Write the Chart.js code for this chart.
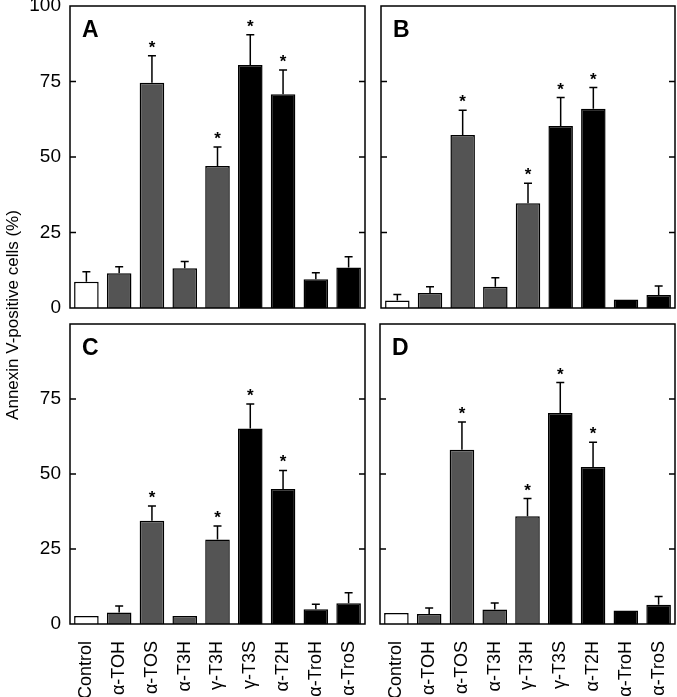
<!DOCTYPE html>
<html>
<head>
<meta charset="utf-8">
<script src="https://cdn.jsdelivr.net/npm/chart.js@4/dist/chart.umd.min.js"></script>
<style>
  body { margin: 0; background: #fff; }
  #wrap { position: relative; width: 677px; height: 697px; overflow: hidden; }
  canvas { position: absolute; }
  #ytitle {
    position: absolute; left: -137px; top: 305px; width: 300px; height: 20px;
    line-height: 20px; text-align: center; font: 17px "Liberation Sans", Arial, sans-serif;
    transform: rotate(-90deg); color: #000;
  }
</style>
</head>
<body>
<div id="wrap">
  <canvas id="chartC" width="370" height="379" style="left:0;top:318px;width:370px;height:379px"></canvas>
  <canvas id="chartD" width="303" height="379" style="left:374px;top:318px;width:303px;height:379px"></canvas>
  <canvas id="chartA" width="370" height="318" style="left:0;top:0;width:370px;height:318px"></canvas>
  <canvas id="chartB" width="302" height="312" style="left:375px;top:0;width:302px;height:312px"></canvas>
  <div id="ytitle">Annexin V-positive cells (%)</div>
</div>
<script>
// categories and values
var categories = ['Control', 'α-TOH', 'α-TOS', 'α-T3H', 'γ-T3H', 'γ-T3S', 'α-T2H', 'α-TroH', 'α-TroS'];
var yTicks = [0, 25, 50, 75, 100];
var significant = [false, false, true, false, true, true, true, false, false];

var meanA = [8.7, 11.5, 74.6, 13.2, 47.0, 80.5, 70.8, 9.5, 13.4];
var errA  = [3.3, 2.2, 8.9, 2.2, 6.3, 10.0, 8.0, 2.2, 3.6];
var meanB = [2.5, 5.0, 57.3, 7.0, 34.7, 60.3, 66.0, 2.8, 4.3];
var errB  = [2.0, 2.0, 8.2, 3.0, 6.6, 9.4, 7.0, 0, 3.0];
var meanC = [2.7, 3.8, 34.4, 2.7, 28.2, 65.2, 45.0, 4.9, 6.9];
var errC  = [0, 2.2, 4.9, 0, 4.5, 8.1, 6.2, 1.7, 3.5];
var meanD = [3.7, 3.3, 58.1, 4.8, 35.9, 70.3, 52.3, 4.5, 6.4];
var errD  = [0, 2.0, 9.2, 2.2, 5.9, 10.2, 8.3, 0, 2.8];

var barColors = ['#ffffff', '#545454', '#545454', '#545454', '#545454', '#000000', '#000000', '#000000', '#000000'];

Chart.defaults.font.family = '"Liberation Sans", Arial, sans-serif';
Chart.defaults.color = '#000';

// error bars, asterisks, frame, inward ticks and panel letter
var panelDecor = {
  id: 'panelDecor',
  afterDatasetsDraw: function(chart) {
    var p = chart.options.plugins.panelDecor;
    var ctx = chart.ctx, a = chart.chartArea;
    var x = chart.scales.x, y = chart.scales.y;
    ctx.save();
    ctx.strokeStyle = '#000';
    ctx.fillStyle = '#000';
    ctx.lineWidth = 1.5;
    for (var i = 0; i < p.means.length; i++) {
      var cx = x.getPixelForValue(i);
      var top = y.getPixelForValue(p.means[i] + p.errors[i]);
      if (p.errors[i] > 0) {
        ctx.beginPath();
        ctx.moveTo(cx, y.getPixelForValue(p.means[i]));
        ctx.lineTo(cx, top);
        ctx.moveTo(cx - 4, top);
        ctx.lineTo(cx + 4, top);
        ctx.stroke();
      }
      if (significant[i]) {
        ctx.font = 'bold 17px "Liberation Sans", Arial, sans-serif';
        ctx.textAlign = 'center';
        ctx.textBaseline = 'alphabetic';
        ctx.fillText('*', cx, top - 3);
      }
    }
    ctx.strokeRect(a.left, a.top, a.right - a.left, a.bottom - a.top);
    ctx.beginPath();
    [25, 50, 75].forEach(function(v) {
      var py = y.getPixelForValue(v);
      ctx.moveTo(a.left, py); ctx.lineTo(a.left + 6, py);
      ctx.moveTo(a.right, py); ctx.lineTo(a.right - 6, py);
    });
    ctx.stroke();
    ctx.font = 'bold 23px "Liberation Sans", Arial, sans-serif';
    ctx.textAlign = 'left';
    ctx.fillText(p.letter, a.left + 12, a.top + 31);
    ctx.restore();
  }
};

function makePanel(id, means, errors, letter, opt) {
  var ctx = document.getElementById(id).getContext('2d');
  return new Chart(ctx, {
    type: 'bar',
    data: {
      labels: categories,
      datasets: [{
        data: means,
        backgroundColor: barColors,
        borderColor: '#000',
        borderWidth: 1.5,
        categoryPercentage: 1,
        barPercentage: 0.75
      }]
    },
    options: {
      responsive: false,
      maintainAspectRatio: false,
      animation: false,
      devicePixelRatio: 1,
      layout: { padding: opt.padding },
      plugins: {
        legend: { display: false },
        tooltip: { enabled: false },
        panelDecor: { means: means, errors: errors, letter: letter }
      },
      scales: {
        x: {
          display: opt.showX,
          grid: { display: false },
          border: { display: false },
          ticks: { minRotation: 90, maxRotation: 90, autoSkip: false, padding: 9, font: { size: 18 } },
          afterFit: function(s) {
            if (!opt.showX) return;
            s.height = 73; s.paddingLeft = 0; s.paddingRight = 0;
          }
        },
        y: {
          display: opt.showY,
          min: 0, max: 100,
          afterBuildTicks: function(s) { s.ticks = yTicks.map(function(v) { return { value: v }; }); },
          grid: { display: false, drawTicks: false },
          border: { display: false },
          ticks: {
            padding: 9,
            font: { size: 19 },
            callback: function(v) { return (opt.hideTop && v === 100) ? '' : v; }
          },
          afterFit: function(s) {
            if (!opt.showY) return;
            s.width = 70; s.paddingTop = 0; s.paddingBottom = 0;
          }
        }
      }
    },
    plugins: [panelDecor]
  });
}

makePanel('chartA', meanA, errA, 'A', { showX: false, showY: true, hideTop: false, padding: { top: 6, right: 5, bottom: 10, left: 0 } });
makePanel('chartB', meanB, errB, 'B', { showX: false, showY: false, hideTop: false, padding: { top: 6, right: 2, bottom: 4, left: 6 } });
makePanel('chartC', meanC, errC, 'C', { showX: true, showY: true, hideTop: true, padding: { top: 6, right: 5, bottom: 0, left: 0 } });
makePanel('chartD', meanD, errD, 'D', { showX: true, showY: false, hideTop: true, padding: { top: 6, right: 2, bottom: 0, left: 6 } });
</script>
</body>
</html>
